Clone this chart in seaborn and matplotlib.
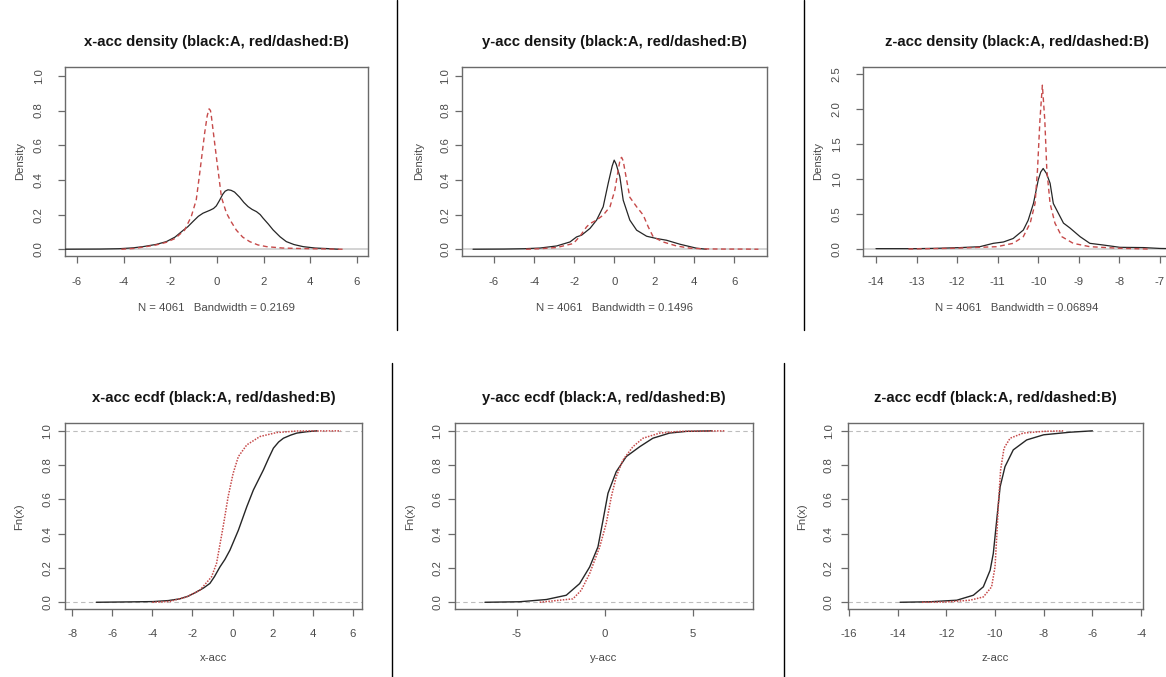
import matplotlib
matplotlib.use("Agg")
import matplotlib.pyplot as plt
import seaborn as sns
from matplotlib.lines import Line2D
from matplotlib.ticker import FixedLocator, FormatStrFormatter

# ---------------- data ----------------
# density curves (x, density)
xacc_dens_A_x = [-6.6, -5.0, -4.2, -3.6, -3.17, -2.6, -2.17, -1.8, -1.46, -1.25, -1.03, -0.8, -0.6,
                 -0.3, -0.15, -0.03, 0.1, 0.25, 0.35, 0.47, 0.6, 0.75, 0.97, 1.15, 1.33, 1.5, 1.69,
                 1.85, 1.97, 2.2, 2.40, 2.7, 2.97, 3.3, 3.69, 4.2, 4.69, 5.2]
xacc_dens_A_y = [0.0, 0.001, 0.003, 0.008, 0.015, 0.028, 0.044, 0.07, 0.108, 0.13, 0.16, 0.19, 0.208,
                 0.225, 0.235, 0.25, 0.28, 0.318, 0.335, 0.343, 0.34, 0.33, 0.30, 0.27, 0.246, 0.23,
                 0.217, 0.2, 0.18, 0.145, 0.112, 0.072, 0.044, 0.027, 0.015, 0.007, 0.004, 0.0]
xacc_dens_B_x = [-4.1, -3.6, -3.17, -2.6, -2.17, -1.8, -1.39, -1.1, -0.89, -0.74, -0.53, -0.42, -0.34,
                 -0.28, -0.24, -0.03, 0.19, 0.40, 0.6, 0.83, 1.1, 1.40, 1.75, 2.12, 2.8, 3.6, 4.5, 5.4]
xacc_dens_B_y = [0.0, 0.004, 0.012, 0.025, 0.040, 0.062, 0.11, 0.19, 0.285, 0.44, 0.67, 0.77, 0.81,
                 0.80, 0.765, 0.535, 0.30, 0.21, 0.16, 0.11, 0.07, 0.044, 0.025, 0.015, 0.007, 0.004,
                 0.002, 0.0]

yacc_dens_A_x = [-7.05, -5.5, -4.5, -3.7, -2.87, -2.21, -1.88, -1.63, -1.21, -0.88, -0.55, -0.30, -0.1,
                 0.0, 0.1, 0.28, 0.45, 0.78, 1.12, 1.62, 2.11, 2.61, 3.28, 4.11, 4.6]
yacc_dens_A_y = [0.0, 0.001, 0.003, 0.007, 0.019, 0.042, 0.071, 0.081, 0.12, 0.168, 0.245, 0.38, 0.48,
                 0.514, 0.49, 0.42, 0.283, 0.168, 0.11, 0.075, 0.062, 0.052, 0.029, 0.006, 0.0]
yacc_dens_B_x = [-4.4, -3.7, -2.87, -2.04, -1.71, -1.38, -1.21, -0.88, -0.55, -0.21, 0.03, 0.2, 0.3,
                 0.37, 0.45, 0.53, 0.78, 1.12, 1.45, 1.70, 1.95, 2.44, 3.11, 3.78, 4.5, 5.5, 6.5, 7.2]
yacc_dens_B_y = [0.0, 0.003, 0.010, 0.033, 0.075, 0.129, 0.148, 0.168, 0.197, 0.245, 0.34, 0.457, 0.52,
                 0.53, 0.51, 0.457, 0.30, 0.245, 0.197, 0.129, 0.071, 0.042, 0.019, 0.006, 0.002,
                 0.001, 0.001, 0.0]

zacc_dens_A_x = [-14.0, -13.0, -12.5, -11.93, -11.44, -11.11, -10.86, -10.62, -10.37, -10.25, -10.12,
                 -10.0, -9.94, -9.88, -9.8, -9.71, -9.63, -9.55, -9.38, -9.22, -8.97, -8.73, -8.40,
                 -7.99, -7.4, -7.0, -6.7]
zacc_dens_A_y = [0.005, 0.005, 0.01, 0.02, 0.033, 0.081, 0.10, 0.15, 0.27, 0.41, 0.65,
                 0.99, 1.1, 1.15, 1.08, 0.94, 0.65, 0.56, 0.37, 0.30, 0.176, 0.081, 0.057,
                 0.024, 0.02, 0.008, 0.005]
zacc_dens_B_x = [-13.2, -12.1, -11.02, -10.62, -10.37, -10.2, -10.08, -10.02, -9.96, -9.90, -9.84,
                 -9.79, -9.71, -9.59, -9.42, -9.14, -8.73, -7.99, -7.3]
zacc_dens_B_y = [0.0, 0.01, 0.033, 0.081, 0.176, 0.37, 0.65, 1.13, 1.84, 2.34, 1.84,
                 1.13, 0.65, 0.37, 0.176, 0.081, 0.033, 0.01, 0.0]

# ecdf curves (x, Fn(x))
xacc_ecdf_A_x = [-6.8, -5.3, -3.97, -3.2, -2.63, -2.2, -1.8, -1.45, -1.13, -0.9, -0.63, -0.38, -0.13,
                 0.29, 0.71, 1.04, 1.54, 1.8, 2.04, 2.3, 2.54, 2.9, 3.21, 3.71, 4.2]
xacc_ecdf_A_y = [0.0, 0.002, 0.004, 0.01, 0.02, 0.036, 0.06, 0.083, 0.11, 0.15, 0.206, 0.25, 0.304,
                 0.42, 0.557, 0.655, 0.772, 0.84, 0.899, 0.935, 0.957, 0.975, 0.987, 0.995, 1.0]
xacc_ecdf_B_x = [-4.0, -3.13, -2.3, -1.63, -1.05, -0.8, -0.47, -0.22, 0.03, 0.29, 0.71, 1.37, 2.2,
                 3.2, 5.4]
xacc_ecdf_B_y = [0.0, 0.005, 0.031, 0.07, 0.148, 0.226, 0.44, 0.616, 0.752, 0.85, 0.918, 0.967, 0.99,
                 0.999, 1.0]

yacc_ecdf_A_x = [-6.8, -4.83, -3.31, -2.18, -1.42, -0.85, -0.38, -0.09, 0.19, 0.66, 1.23, 2.0, 2.74,
                 3.69, 4.64, 6.1]
yacc_ecdf_A_y = [0.0, 0.003, 0.016, 0.041, 0.109, 0.206, 0.323, 0.48, 0.636, 0.762, 0.85, 0.908, 0.957,
                 0.987, 0.997, 1.0]
yacc_ecdf_B_x = [-3.69, -2.56, -1.8, -1.33, -0.85, -0.28, 0.09, 0.38, 0.66, 1.04, 1.61, 2.18, 3.13,
                 4.3, 6.8]
yacc_ecdf_B_y = [0.0, 0.012, 0.02, 0.07, 0.168, 0.323, 0.46, 0.616, 0.733, 0.83, 0.908, 0.957, 0.987,
                 0.997, 1.0]

zacc_ecdf_A_x = [-13.9, -12.67, -11.57, -10.89, -10.48, -10.2, -10.07, -9.93, -9.79, -9.59, -9.25,
                 -8.70, -8.0, -6.92, -6.0]
zacc_ecdf_A_y = [0.0, 0.003, 0.012, 0.041, 0.09, 0.187, 0.285, 0.48, 0.674, 0.791, 0.889,
                 0.947, 0.977, 0.992, 1.0]
zacc_ecdf_B_x = [-13.0, -11.99, -11.03, -10.48, -10.14, -10.0, -9.93, -9.86, -9.77, -9.63, -9.38,
                 -8.84, -8.0, -7.2]
zacc_ecdf_B_y = [0.0, 0.002, 0.012, 0.031, 0.09, 0.206, 0.382, 0.577, 0.772, 0.899, 0.957,
                 0.987, 0.997, 1.0]

# text
titles = ["x-acc density (black:A, red/dashed:B)",
          "y-acc density (black:A, red/dashed:B)",
          "z-acc density (black:A, red/dashed:B)",
          "x-acc ecdf (black:A, red/dashed:B)",
          "y-acc ecdf (black:A, red/dashed:B)",
          "z-acc ecdf (black:A, red/dashed:B)"]
xlabels = ["N = 4061   Bandwidth = 0.2169",
           "N = 4061   Bandwidth = 0.1496",
           "N = 4061   Bandwidth = 0.06894",
           "x-acc", "y-acc", "z-acc"]
ylabels = ["Density", "Density", "Density", "Fn(x)", "Fn(x)", "Fn(x)"]

xticks = [[-6, -4, -2, 0, 2, 4, 6],
          [-6, -4, -2, 0, 2, 4, 6],
          [-14, -13, -12, -11, -10, -9, -8, -7],
          [-8, -6, -4, -2, 0, 2, 4, 6],
          [-5, 0, 5],
          [-16, -14, -12, -10, -8, -6, -4]]
yticks = [[0.0, 0.2, 0.4, 0.6, 0.8, 1.0],
          [0.0, 0.2, 0.4, 0.6, 0.8, 1.0],
          [0.0, 0.5, 1.0, 1.5, 2.0, 2.5],
          [0.0, 0.2, 0.4, 0.6, 0.8, 1.0],
          [0.0, 0.2, 0.4, 0.6, 0.8, 1.0],
          [0.0, 0.2, 0.4, 0.6, 0.8, 1.0]]

curves = [
    (xacc_dens_A_x, xacc_dens_A_y, xacc_dens_B_x, xacc_dens_B_y),
    (yacc_dens_A_x, yacc_dens_A_y, yacc_dens_B_x, yacc_dens_B_y),
    (zacc_dens_A_x, zacc_dens_A_y, zacc_dens_B_x, zacc_dens_B_y),
    (xacc_ecdf_A_x, xacc_ecdf_A_y, xacc_ecdf_B_x, xacc_ecdf_B_y),
    (yacc_ecdf_A_x, yacc_ecdf_A_y, yacc_ecdf_B_x, yacc_ecdf_B_y),
    (zacc_ecdf_A_x, zacc_ecdf_A_y, zacc_ecdf_B_x, zacc_ecdf_B_y),
]

# ---------------- layout / style ----------------
W, H = 1166, 677
# axes boxes in pixels: (x0, x1, ytop, ybottom)
boxes = [(65, 368, 66.7, 256), (462, 767, 66.7, 256), (863, 1171, 66.7, 256),
         (65, 362, 423.3, 609.3), (455, 752.7, 423.3, 609.3), (847.7, 1143.3, 423.3, 609.3)]
xlims = [(-6.514, 6.47), (-7.6, 7.63), (-14.32, -6.73),
         (-8.36, 6.46), (-8.5, 8.41), (-16.05, -3.91)]
ylims = [(-0.039, 1.053), (-0.039, 1.053), (-0.1, 2.604),
         (-0.041, 1.044), (-0.041, 1.044), (-0.041, 1.044)]
ytick_pad = [10, 3.3, 10, 4, 4, 4.8]
ylabel_pad = [6, 11.7, 6, 13.2, 12, 12]
xtick_pad = [9.6, 9.6, 9.6, 8.6, 8.6, 8.6]
xlabel_pad = [11.4, 11.4, 11.4, 10.6, 10.6, 10.6]

sns.set_theme(style="ticks")
plt.rcParams['font.family'] = ['Liberation Sans', 'DejaVu Sans']
plt.rcParams['axes.unicode_minus'] = False

fig = plt.figure(figsize=(W / 100, H / 100), dpi=100)
fig.patch.set_facecolor("white")

BLACK = "#262626"
RED = "#c64a4a"
FRAME = "#6a6a6a"
TXT = "#4a4a4a"

for i in range(6):
    x0, x1, yt, yb = boxes[i]
    ax = fig.add_axes([x0 / W, 1 - yb / H, (x1 - x0) / W, (yb - yt) / H])
    ax.set_facecolor("white")
    ax_x, ax_y, bx, by = curves[i]
    if i < 3:
        ax.axhline(0, color="#c8c8c8", lw=1.1, zorder=1)
        sns.lineplot(x=ax_x, y=ax_y, ax=ax, color=BLACK, lw=0.9, estimator=None, sort=False, zorder=3)
        sns.lineplot(x=bx, y=by, ax=ax, color=RED, lw=1.0, estimator=None, sort=False,
                     linestyle=(0, (3.5, 2.5)), zorder=4)
    else:
        ax.axhline(0, color="#bdbdbd", lw=0.8, ls=(0, (4, 3)), zorder=1)
        ax.axhline(1, color="#bdbdbd", lw=0.8, ls=(0, (4, 3)), zorder=1)
        sns.lineplot(x=ax_x, y=ax_y, ax=ax, color=BLACK, lw=1.0, estimator=None, sort=False, zorder=3)
        sns.lineplot(x=bx, y=by, ax=ax, color=RED, lw=1.1, estimator=None, sort=False,
                     linestyle=(0, (1, 0.9)), zorder=4)
    ax.set_xlim(*xlims[i])
    ax.set_ylim(*ylims[i])
    ax.xaxis.set_major_locator(FixedLocator(xticks[i]))
    ax.yaxis.set_major_locator(FixedLocator(yticks[i]))
    ax.xaxis.set_major_formatter(FormatStrFormatter("%d"))
    ax.yaxis.set_major_formatter(FormatStrFormatter("%.1f"))
    for lab in ax.get_yticklabels():
        lab.set_rotation(90)
        lab.set_va("center")
    ax.tick_params(axis="both", direction="out", length=5.3, width=0.9, color=FRAME,
                   labelcolor=TXT, labelsize=8.2)
    ax.tick_params(axis="x", pad=xtick_pad[i])
    ax.tick_params(axis="y", pad=ytick_pad[i])
    for s in ax.spines.values():
        s.set_color(FRAME)
        s.set_linewidth(1.0)
        s.set_visible(True)
    ax.set_title(titles[i], fontsize=10.7, fontweight="bold", color="#151515", pad=15.2)
    ax.set_xlabel(xlabels[i], fontsize=8.2, color=TXT, labelpad=xlabel_pad[i])
    ax.set_ylabel(ylabels[i], fontsize=8.2, color=TXT, labelpad=ylabel_pad[i])
    ax.grid(False)

# separator lines of the composite screenshot
separators = [(397, 0, 330), (804, 0, 330), (392, 363, 677), (784, 363, 677)]
for sx, sy0, sy1 in separators:
    fig.add_artist(Line2D([sx / W, sx / W], [1 - sy0 / H, 1 - sy1 / H], color="black", lw=1.0,
                          transform=fig.transFigure))

fig.savefig("out.png", dpi=100, facecolor="white")
